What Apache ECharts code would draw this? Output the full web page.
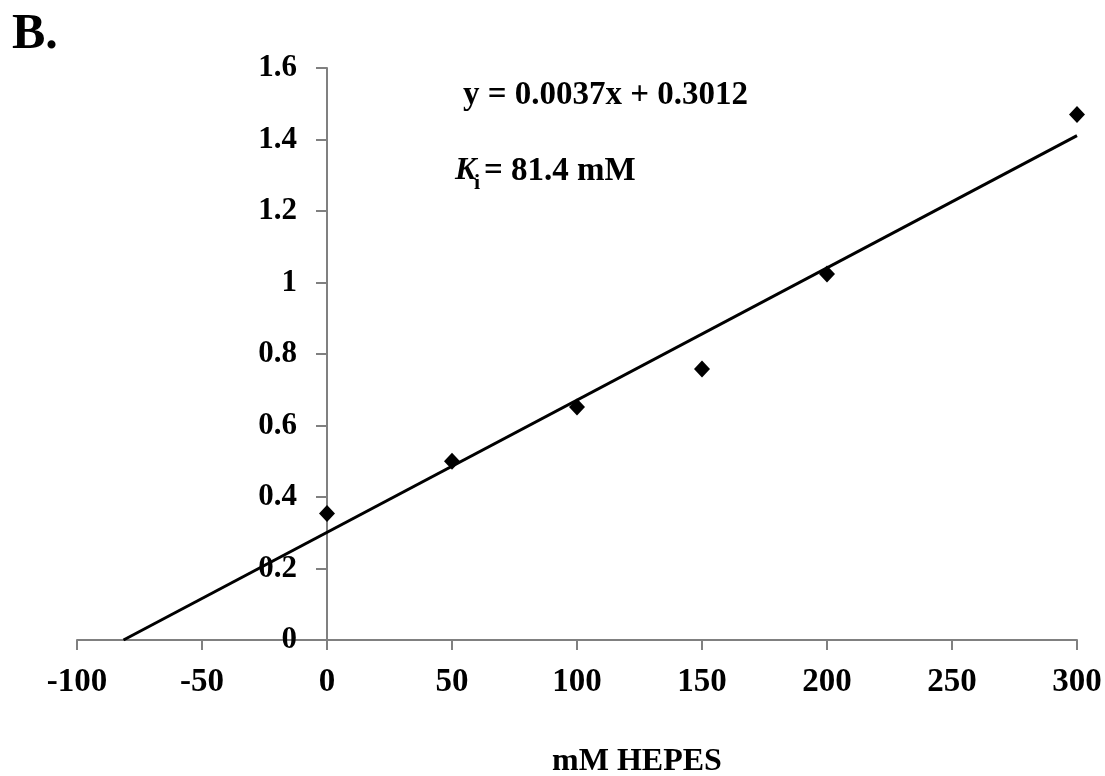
<!DOCTYPE html>
<html>
<head>
<meta charset="utf-8">
<script src="https://cdn.jsdelivr.net/npm/echarts@6/dist/echarts.min.js"></script>
<style>
  html, body { margin: 0; padding: 0; background: #fff; }
  #main { width: 1105px; height: 776px; }
</style>
</head>
<body>
<div id="main"></div>
<script>
// data
const hepes = [0, 50, 100, 150, 200, 300]
const ratio = [0.354, 0.50, 0.652, 0.758, 1.024, 1.47]
// trend line end points (y = 0.0037x + 0.3012, crosses x axis at -Ki)
const trendX = [-81.4, 300]
const trendY = [0, 1.411]
const xTicks = { min: -100, max: 300, step: 50 }
const yTicks = { min: 0, max: 1.6, step: 0.2 }

const serif = 'Liberation Serif'
const pts = hepes.map((x, i) => [x, ratio[i]])
const trend = trendX.map((x, i) => [x, trendY[i]])

const chart = echarts.init(document.getElementById('main'))
const option = {
  backgroundColor: '#fff',
  animation: false,
  grid: { left: 77, right: 28, top: 68, bottom: 136, containLabel: false, outerBoundsMode: 'none' },
  xAxis: {
    type: 'value',
    min: xTicks.min, max: xTicks.max, interval: xTicks.step,
    splitLine: { show: false },
    axisLine: { show: true, lineStyle: { color: '#808080', width: 2 } },
    axisTick: { show: true, length: 10, lineStyle: { color: '#808080', width: 2 } },
    axisLabel: { margin: 26, color: '#000', fontFamily: serif, fontWeight: 'bold', fontSize: 33 },
    name: 'mM HEPES',
    nameLocation: 'middle',
    nameGap: 106,
    nameTextStyle: { color: '#000', fontFamily: serif, fontWeight: 'bold', fontSize: 32, padding: [0, 0, 0, 120] }
  },
  yAxis: {
    type: 'value',
    min: yTicks.min, max: yTicks.max, interval: yTicks.step,
    // y axis sits at x = 0, i.e. 250px right of the grid's left edge
    offset: -250,
    splitLine: { show: false },
    axisLine: { show: true, onZero: false, lineStyle: { color: '#808080', width: 2 } },
    axisTick: { show: true, length: 11, lineStyle: { color: '#808080', width: 2 } },
    axisLabel: { margin: 30, color: '#000', fontFamily: serif, fontWeight: 'bold', fontSize: 31 }
  },
  series: [
    {
      type: 'line',
      data: trend,
      symbol: 'none',
      lineStyle: { color: '#000', width: 3 },
      z: 2
    },
    {
      type: 'scatter',
      data: pts,
      symbol: 'diamond',
      symbolSize: [16, 17],
      itemStyle: { color: '#000', opacity: 1 },
      z: 3
    }
  ],
  graphic: [
    {
      type: 'text', left: 12, top: 10,
      style: { text: 'B.', fill: '#000', font: 'bold 50px "Liberation Serif"' }
    },
    {
      type: 'text', left: 463, top: 79,
      style: { text: 'y = 0.0037x + 0.3012', fill: '#000', font: 'bold 33px "Liberation Serif"' }
    },
    {
      type: 'text', left: 455, top: 155,
      style: { text: 'K', fill: '#000', font: 'italic bold 32px "Liberation Serif"' }
    },
    {
      type: 'text', left: 474, top: 172,
      style: { text: 'i', fill: '#000', font: 'bold 22px "Liberation Serif"' }
    },
    {
      type: 'text', left: 484, top: 155,
      style: { text: '= 81.4 mM', fill: '#000', font: 'bold 33px "Liberation Serif"' }
    }
  ]
}
chart.setOption(option)
</script>
</body>
</html>
